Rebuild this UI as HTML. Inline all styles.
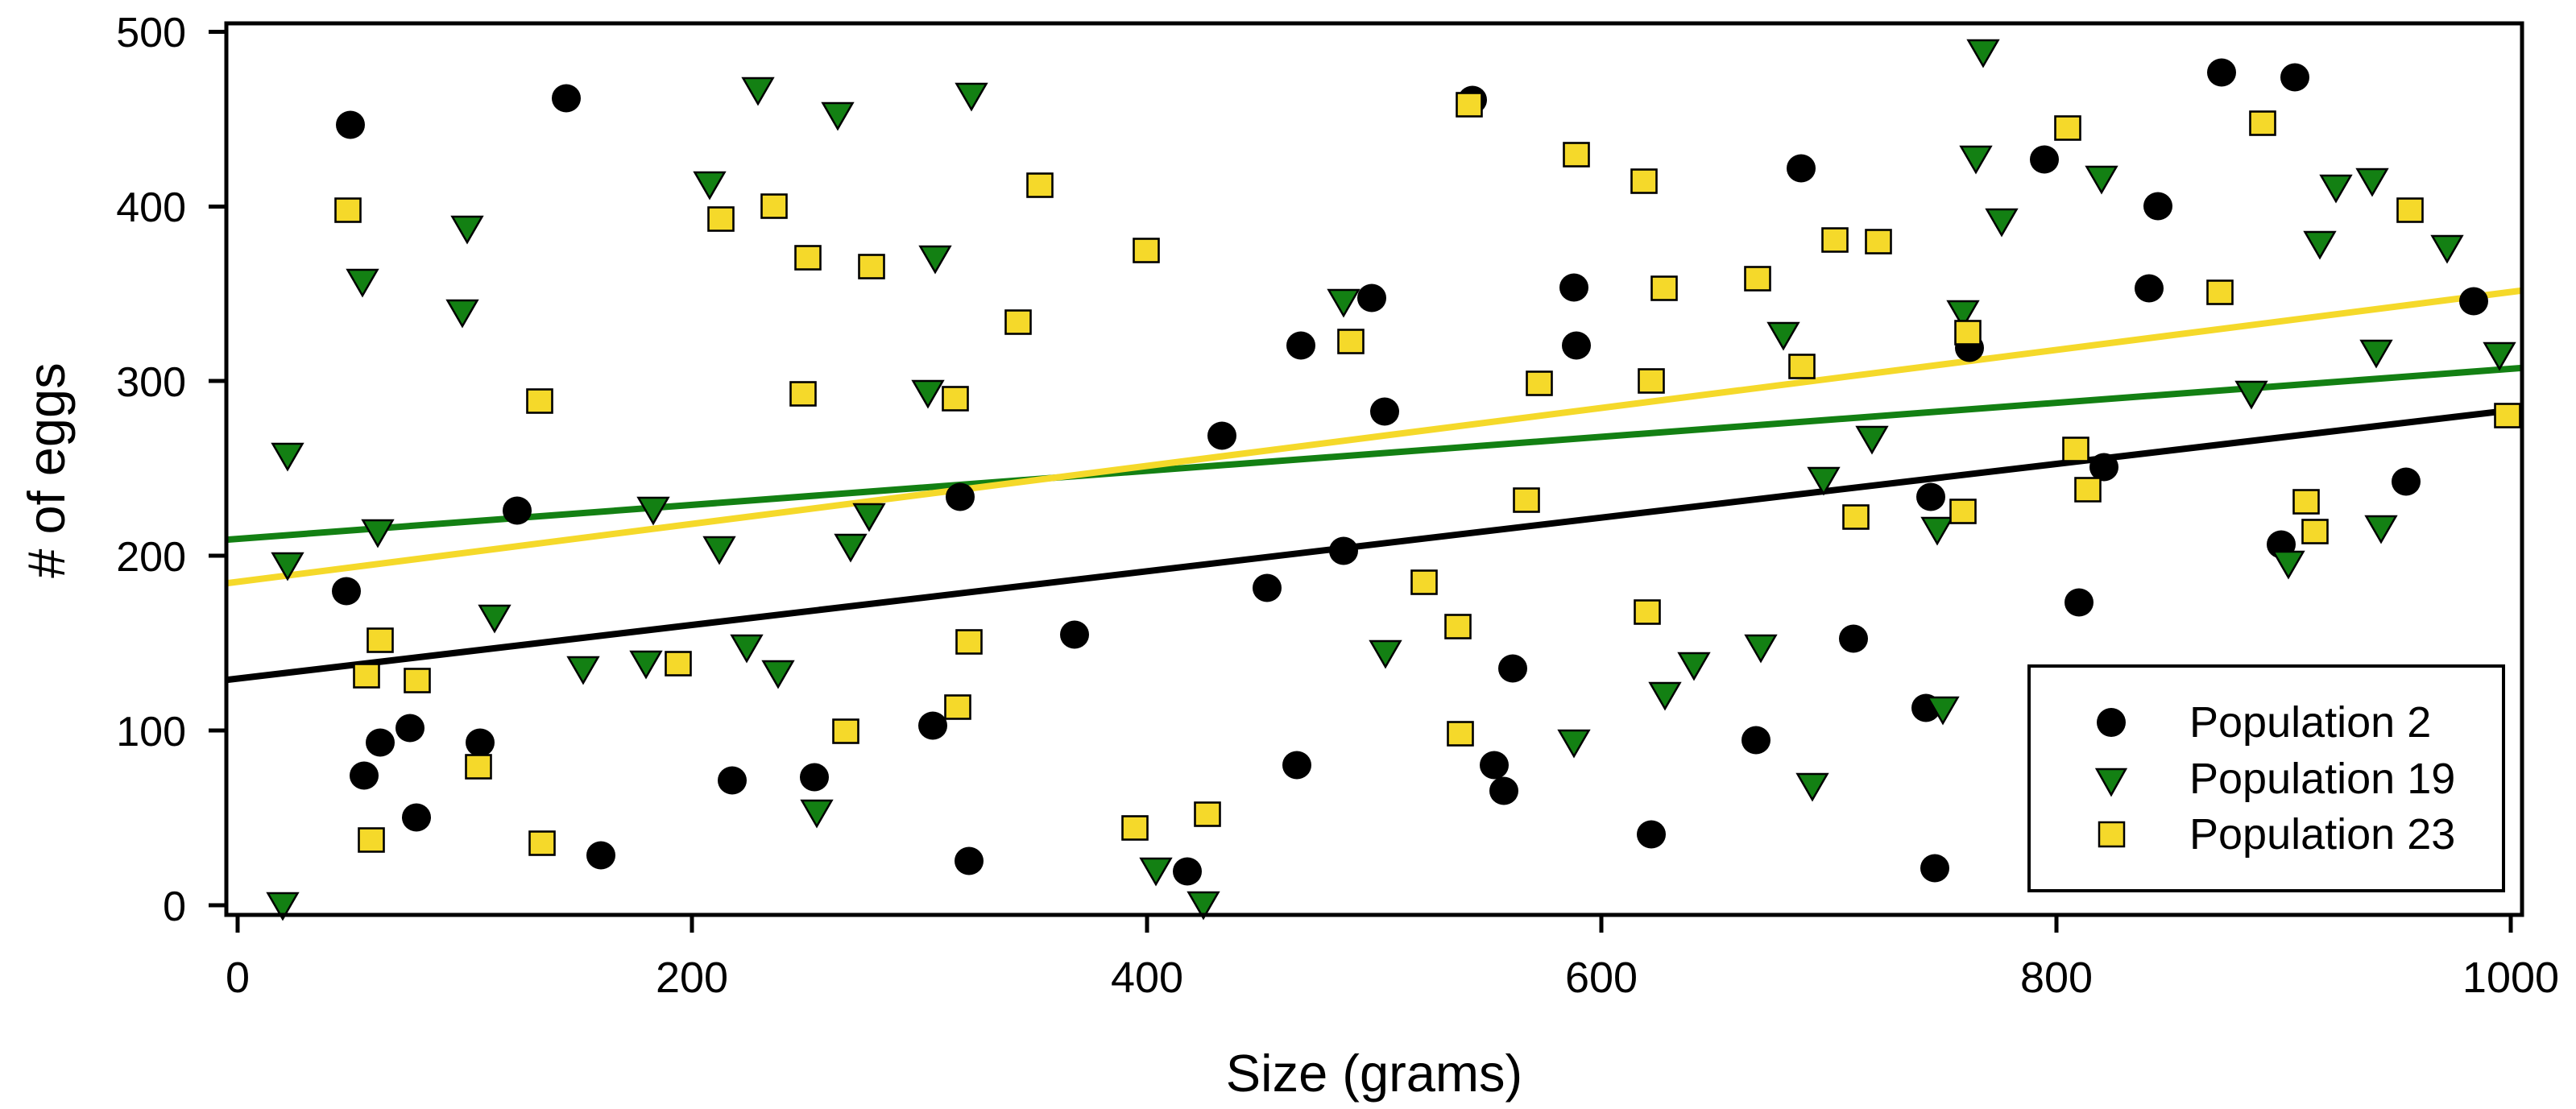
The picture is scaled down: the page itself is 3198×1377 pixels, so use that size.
<!DOCTYPE html>
<html><head><meta charset="utf-8"><style>
html,body{margin:0;padding:0;background:#fff;}
svg{display:block;font-family:"Liberation Sans",Arial,sans-serif;}
</style></head><body>
<svg width="3198" height="1377" viewBox="0 0 3198 1377" xmlns="http://www.w3.org/2000/svg">
<defs>
<g id="c"><ellipse cx="0" cy="0" rx="18" ry="17.5" fill="#000"/></g>
<g id="t"><polygon points="-18.5,-15 18.5,-15 0,17" fill="#138013" stroke="#000" stroke-width="2.5"/></g>
<g id="s"><rect x="-15.5" y="-14.5" width="31" height="29" fill="#f5d92a" stroke="#000" stroke-width="2.6"/></g>
</defs>
<rect x="0" y="0" width="3198" height="1377" fill="#fff"/>
<line x1="283" y1="844" x2="3129" y2="508" stroke="#000" stroke-width="8"/>
<line x1="283" y1="670" x2="3129" y2="457" stroke="#138013" stroke-width="8"/>
<line x1="283" y1="724" x2="3129" y2="361" stroke="#f5d92a" stroke-width="8"/>
<g>
<!-- circles -->
<use href="#c" x="435" y="155"/><use href="#c" x="703" y="122"/><use href="#c" x="642" y="634"/>
<use href="#c" x="430" y="734"/><use href="#c" x="1192" y="617"/><use href="#c" x="472" y="922"/>
<use href="#c" x="509" y="904"/><use href="#c" x="596" y="922"/><use href="#c" x="452" y="963"/>
<use href="#c" x="517" y="1015"/><use href="#c" x="746" y="1062"/><use href="#c" x="909" y="969"/>
<use href="#c" x="1011" y="965"/><use href="#c" x="1158" y="901"/><use href="#c" x="1203" y="1069"/>
<use href="#c" x="1828" y="124"/><use href="#c" x="2236" y="209"/><use href="#c" x="1703" y="370"/>
<use href="#c" x="1615" y="429"/><use href="#c" x="1954" y="357"/><use href="#c" x="1957" y="429"/>
<use href="#c" x="1719" y="511"/><use href="#c" x="1517" y="541"/><use href="#c" x="1668" y="684"/>
<use href="#c" x="1573" y="730"/><use href="#c" x="1334" y="788"/><use href="#c" x="1878" y="830"/>
<use href="#c" x="1610" y="950"/><use href="#c" x="1855" y="950"/><use href="#c" x="1867" y="982"/>
<use href="#c" x="2180" y="919"/><use href="#c" x="2050" y="1036"/><use href="#c" x="1474" y="1082"/>
<use href="#c" x="2538" y="198"/><use href="#c" x="2758" y="90"/><use href="#c" x="2849" y="96"/>
<use href="#c" x="2679" y="256"/><use href="#c" x="2668" y="358"/><use href="#c" x="3071" y="374"/>
<use href="#c" x="2445" y="432"/><use href="#c" x="2612" y="580"/><use href="#c" x="2397" y="617"/>
<use href="#c" x="2987" y="598"/><use href="#c" x="2832" y="676"/><use href="#c" x="2581" y="748"/>
<use href="#c" x="2301" y="793"/><use href="#c" x="2391" y="879"/><use href="#c" x="2402" y="1078"/>
<!-- triangles -->
<use href="#t" x="941" y="112"/><use href="#t" x="1040" y="143"/><use href="#t" x="1206" y="119"/>
<use href="#t" x="881" y="229"/><use href="#t" x="580" y="284"/><use href="#t" x="450" y="350"/>
<use href="#t" x="574" y="388"/><use href="#t" x="1161" y="321"/><use href="#t" x="1152" y="488"/>
<use href="#t" x="357" y="566"/><use href="#t" x="811" y="633"/><use href="#t" x="469" y="661"/>
<use href="#t" x="357" y="702"/><use href="#t" x="1079" y="641"/><use href="#t" x="893" y="682"/>
<use href="#t" x="1056" y="679"/><use href="#t" x="614" y="767"/><use href="#t" x="724" y="831"/>
<use href="#t" x="802" y="824"/><use href="#t" x="927" y="804"/><use href="#t" x="966" y="836"/>
<use href="#t" x="1014" y="1009"/><use href="#t" x="351" y="1124"/>
<use href="#t" x="1668" y="375"/><use href="#t" x="2214" y="416"/><use href="#t" x="1720" y="811"/>
<use href="#t" x="2103" y="826"/><use href="#t" x="2186" y="804"/><use href="#t" x="2067" y="863"/>
<use href="#t" x="1954" y="922"/><use href="#t" x="1435" y="1081"/><use href="#t" x="1494" y="1123"/>
<use href="#t" x="2462" y="65"/><use href="#t" x="2453" y="197"/><use href="#t" x="2485" y="275"/>
<use href="#t" x="2609" y="222"/><use href="#t" x="2900" y="233"/><use href="#t" x="2945" y="225"/>
<use href="#t" x="2880" y="303"/><use href="#t" x="3038" y="308"/><use href="#t" x="2437" y="389"/>
<use href="#t" x="2950" y="438"/><use href="#t" x="3103" y="441"/><use href="#t" x="2795" y="489"/>
<use href="#t" x="2324" y="545"/><use href="#t" x="2264" y="596"/><use href="#t" x="2405" y="658"/>
<use href="#t" x="2841" y="700"/><use href="#t" x="2956" y="656"/><use href="#t" x="2412" y="881"/>
<use href="#t" x="2250" y="976"/>
<!-- squares -->
<use href="#s" x="432" y="261"/><use href="#s" x="895" y="272"/><use href="#s" x="961" y="256"/>
<use href="#s" x="1003" y="320"/><use href="#s" x="1082" y="331"/><use href="#s" x="1264" y="400"/>
<use href="#s" x="670" y="498"/><use href="#s" x="997" y="489"/><use href="#s" x="1186" y="495"/>
<use href="#s" x="472" y="795"/><use href="#s" x="455" y="839"/><use href="#s" x="518" y="845"/>
<use href="#s" x="842" y="824"/><use href="#s" x="1203" y="797"/><use href="#s" x="1189" y="878"/>
<use href="#s" x="1050" y="908"/><use href="#s" x="594" y="952"/><use href="#s" x="461" y="1043"/>
<use href="#s" x="673" y="1047"/>
<use href="#s" x="1824" y="130"/><use href="#s" x="1957" y="192"/><use href="#s" x="2041" y="225"/>
<use href="#s" x="1291" y="230"/><use href="#s" x="1423" y="311"/><use href="#s" x="1677" y="424"/>
<use href="#s" x="2066" y="358"/><use href="#s" x="2182" y="346"/><use href="#s" x="2237" y="455"/>
<use href="#s" x="1911" y="476"/><use href="#s" x="2050" y="473"/><use href="#s" x="1895" y="621"/>
<use href="#s" x="1768" y="723"/><use href="#s" x="1810" y="778"/><use href="#s" x="2045" y="760"/>
<use href="#s" x="1813" y="911"/><use href="#s" x="1409" y="1028"/><use href="#s" x="1499" y="1011"/>
<use href="#s" x="2567" y="159"/><use href="#s" x="2809" y="153"/><use href="#s" x="2992" y="261"/>
<use href="#s" x="2278" y="298"/><use href="#s" x="2332" y="300"/><use href="#s" x="2756" y="363"/>
<use href="#s" x="2443" y="413"/><use href="#s" x="2577" y="558"/><use href="#s" x="2592" y="608"/>
<use href="#s" x="2304" y="642"/><use href="#s" x="2437" y="635"/><use href="#s" x="2863" y="623"/>
<use href="#s" x="2874" y="660"/><use href="#s" x="3113" y="516"/>
</g>
<rect x="281" y="29" width="2850" height="1107" fill="none" stroke="#000" stroke-width="5"/>
<g stroke="#000" stroke-width="5">
<line x1="259" y1="39.5" x2="281" y2="39.5"/><line x1="259" y1="256.5" x2="281" y2="256.5"/>
<line x1="259" y1="473" x2="281" y2="473"/><line x1="259" y1="690" x2="281" y2="690"/>
<line x1="259" y1="907" x2="281" y2="907"/><line x1="259" y1="1124" x2="281" y2="1124"/>
<line x1="295" y1="1136" x2="295" y2="1158"/><line x1="859" y1="1136" x2="859" y2="1158"/>
<line x1="1424" y1="1136" x2="1424" y2="1158"/><line x1="1988" y1="1136" x2="1988" y2="1158"/>
<line x1="2553" y1="1136" x2="2553" y2="1158"/><line x1="3117" y1="1136" x2="3117" y2="1158"/>
</g>
<g font-size="52" text-anchor="end" fill="#000">
<text x="231" y="58">500</text><text x="231" y="275">400</text><text x="231" y="492">300</text>
<text x="231" y="709">200</text><text x="231" y="926">100</text><text x="231" y="1143">0</text>
</g>
<g font-size="54" text-anchor="middle" fill="#000">
<text x="295" y="1232">0</text><text x="859" y="1232">200</text><text x="1424" y="1232">400</text>
<text x="1988" y="1232">600</text><text x="2553" y="1232">800</text><text x="3117" y="1232">1000</text>
</g>
<text x="1706" y="1355" font-size="65" text-anchor="middle" fill="#000">Size (grams)</text>
<text transform="translate(80,584) rotate(-90)" font-size="65" text-anchor="middle" fill="#000"># of eggs</text>
<rect x="2519" y="827" width="589" height="279" fill="#fff" stroke="#000" stroke-width="4"/>
<ellipse cx="2621" cy="897" rx="18" ry="18" fill="#000"/>
<polygon points="2603,955 2639,955 2621,987" fill="#138013" stroke="#000" stroke-width="2.5"/>
<rect x="2606" y="1021" width="31" height="30" fill="#f5d92a" stroke="#000" stroke-width="2.5"/>
<g font-size="54" fill="#000">
<text x="2718" y="915">Population 2</text>
<text x="2718" y="985">Population 19</text>
<text x="2718" y="1054">Population 23</text>
</g>
</svg>
</body></html>
